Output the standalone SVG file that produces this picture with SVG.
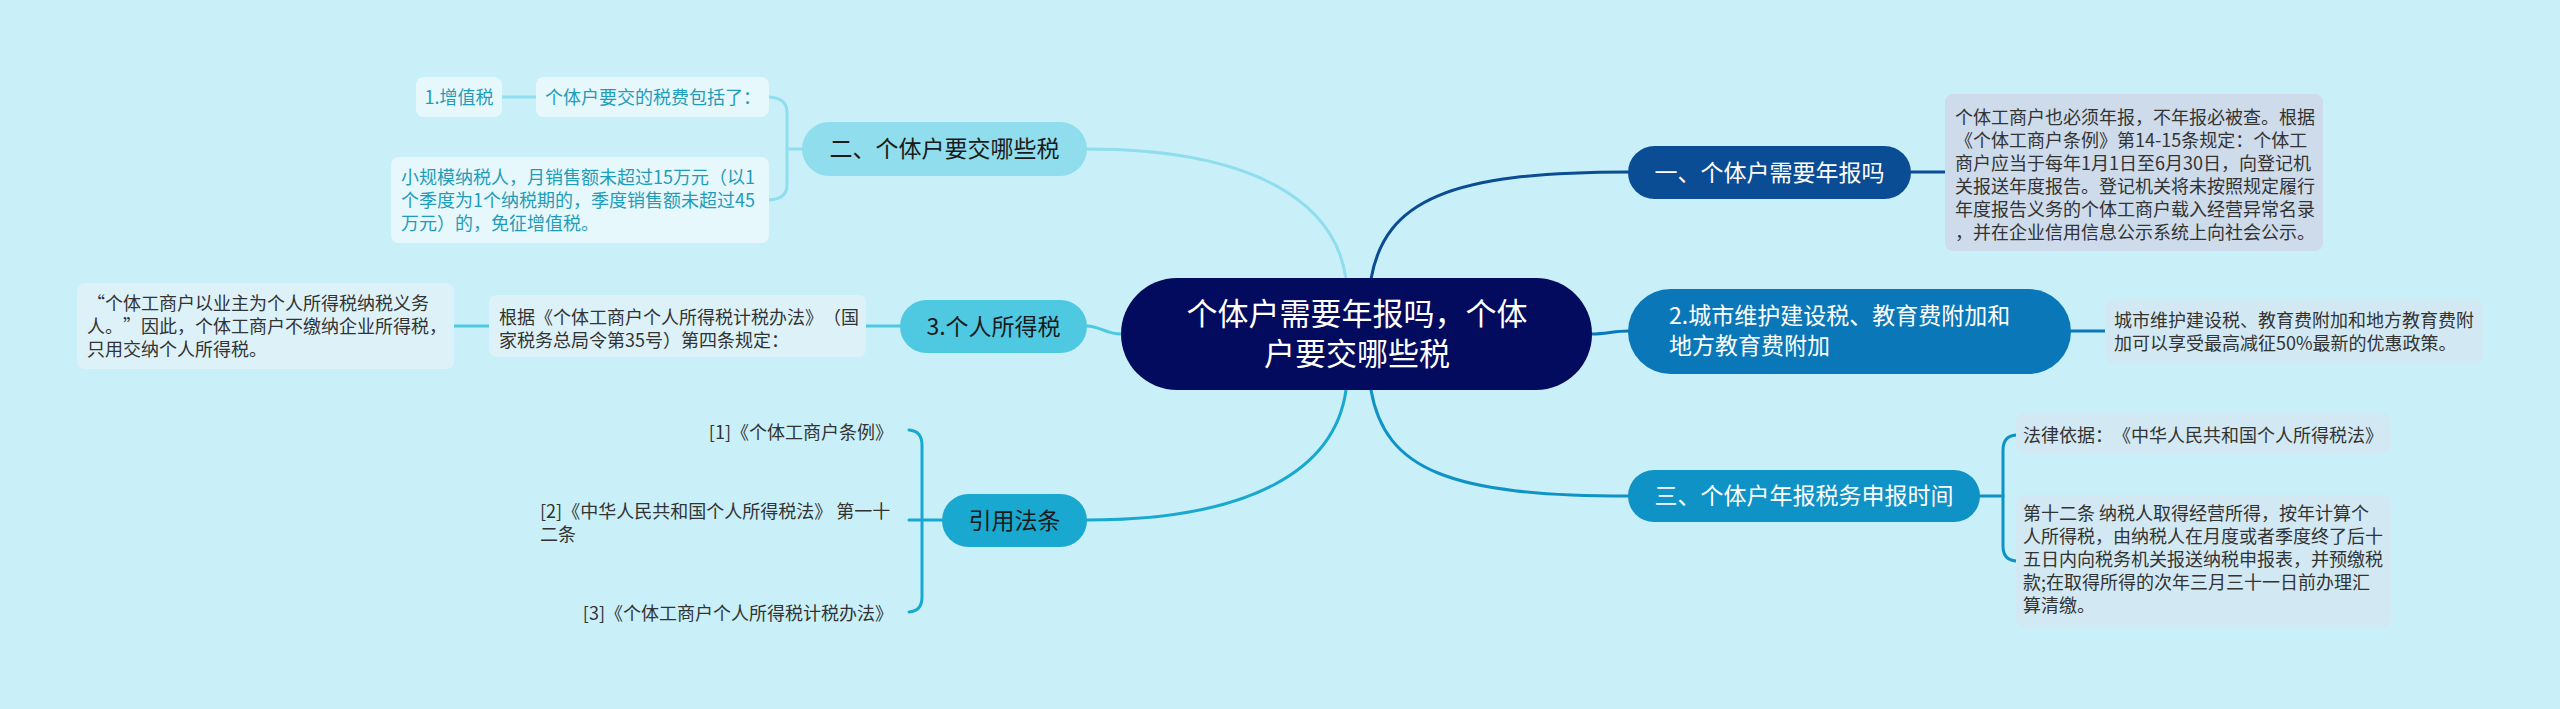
<svg xmlns="http://www.w3.org/2000/svg" width="2560" height="709" viewBox="0 0 2560 709">
<style>
text{font-family:"Noto Sans CJK SC","Microsoft YaHei",sans-serif;text-spacing-trim:space-all;}
.t18{font-size:18px;fill:#333333;}
.teal{font-size:18px;fill:#1f9cb9;}
.n23w{font-size:23px;fill:#ffffff;}
.n23d{font-size:23px;fill:#1a1a1a;}
.c{text-anchor:middle;}
.e{text-anchor:end;}
.conn path{fill:none;stroke-width:3;stroke-linecap:round;}
</style>
<rect width="2560" height="709" fill="#c9f0f8"/>
<g id="connectors" class="conn">
<path d="M1346,279 C1335,200 1250,149 1087,149" stroke="#8fdded"/>
<path d="M1121,334 C1105,334 1100,326 1087,326" stroke="#4fc9e2"/>
<path d="M1346,390 C1335,470 1250,520 1087,520" stroke="#19a8cf"/>
<path d="M1371,279 C1385,200 1450,172 1628,172" stroke="#0b4d94"/>
<path d="M1592,334 C1605,334 1615,331 1628,331" stroke="#0a78b8"/>
<path d="M1371,390 C1385,470 1450,496 1628,496" stroke="#0f92c6"/>
<path d="M1911,172 H1945" stroke="#0b4d94"/>
<path d="M2071,331 H2105" stroke="#0a78b8"/>
<path d="M1980,496 H2003" stroke="#0f92c6" stroke-width="2.5"/>
<path d="M2016,435 Q2003,436 2003,450 L2003,546 Q2003,560 2016,561" stroke="#0f92c6" stroke-width="2.5"/>
<path d="M802,149 H787" stroke="#8fdded" stroke-width="2.5"/>
<path d="M769,97 Q787,98 787,112 L787,185 Q787,199 769,200" stroke="#8fdded" stroke-width="2.5"/>
<path d="M502,97 H536" stroke="#8fdded" stroke-width="4"/>
<path d="M866,326 H900" stroke="#4fc9e2" stroke-width="4"/>
<path d="M454,326 H489" stroke="#4fc9e2" stroke-width="4"/>
<path d="M942,520 H909" stroke="#19a8cf" stroke-width="2.5"/>
<path d="M909,430 Q922,431 922,445 L922,597 Q922,611 909,612" stroke="#19a8cf" stroke-width="2.5"/>
</g>
<g id="root">
<rect x="1121" y="278" width="471" height="112" rx="56" fill="#020b5e"/>
<text x="1357" y="325" font-size="31" fill="#ffffff" class="c">个体户需要年报吗，个体</text>
<text x="1357" y="365" font-size="31" fill="#ffffff" class="c">户要交哪些税</text>
</g>
<g id="n1">
<rect x="1628" y="146" width="283" height="53" rx="26.5" fill="#0b4d94"/>
<text x="1769.5" y="180.5" class="n23w c">一、个体户需要年报吗</text>
</g>
<g id="n1d">
<rect x="1945" y="94" width="378" height="157" rx="8" fill="#cddbea"/>
<text class="t18" x="1955"><tspan x="1955" y="124">个体工商户也必须年报，不年报必被查。根据</tspan><tspan x="1955" y="147">《个体工商户条例》第14-15条规定：个体工</tspan><tspan x="1955" y="170">商户应当于每年1月1日至6月30日，向登记机</tspan><tspan x="1955" y="193">关报送年度报告。登记机关将未按照规定履行</tspan><tspan x="1955" y="216">年度报告义务的个体工商户载入经营异常名录</tspan><tspan x="1955" y="239">，并在企业信用信息公示系统上向社会公示。</tspan></text>
</g>
<g id="n2">
<rect x="1628" y="289" width="443" height="85" rx="42.5" fill="#0a78b8"/>
<text class="n23w" x="1669" y="324">2.城市维护建设税、教育费附加和</text>
<text class="n23w" x="1669" y="354">地方教育费附加</text>
</g>
<g id="n2d">
<rect x="2105" y="300" width="378" height="63" rx="8" fill="#d2e8f2"/>
<text class="t18" x="2114" y="326.5">城市维护建设税、教育费附加和地方教育费附</text>
<text class="t18" x="2114" y="349.5">加可以享受最高减征50%最新的优惠政策。</text>
</g>
<g id="n3">
<rect x="1628" y="470" width="352" height="52" rx="26" fill="#0f92c6"/>
<text class="n23w c" x="1804" y="504">三、个体户年报税务申报时间</text>
</g>
<g id="n3d1">
<rect x="2016" y="413" width="375" height="40" rx="8" fill="#d2e8f2"/>
<text class="t18" x="2023" y="441.5">法律依据：《中华人民共和国个人所得税法》</text>
</g>
<g id="n3d2">
<rect x="2016" y="495" width="375" height="132" rx="8" fill="#d2e8f2"/>
<text class="t18"><tspan x="2023" y="519.5">第十二条 纳税人取得经营所得，按年计算个</tspan><tspan x="2023" y="542.5">人所得税，由纳税人在月度或者季度终了后十</tspan><tspan x="2023" y="565.5">五日内向税务机关报送纳税申报表，并预缴税</tspan><tspan x="2023" y="588.5">款;在取得所得的次年三月三十一日前办理汇</tspan><tspan x="2023" y="611.5">算清缴。</tspan></text>
</g>
<g id="l1">
<rect x="802" y="122" width="285" height="54" rx="27" fill="#8fdded"/>
<text class="n23d c" x="944.5" y="157">二、个体户要交哪些税</text>
</g>
<g id="l1a">
<rect x="536" y="77" width="233" height="40" rx="8" fill="#e7f8fc"/>
<text class="teal" x="545" y="103.5">个体户要交的税费包括了：</text>
</g>
<g id="l1a1">
<rect x="416" y="77" width="86" height="40" rx="8" fill="#e7f8fc"/>
<text class="teal c" x="459" y="103.5">1.增值税</text>
</g>
<g id="l1b">
<rect x="391" y="157" width="378" height="86" rx="8" fill="#e7f8fc"/>
<text class="teal"><tspan x="401" y="183.5">小规模纳税人，月销售额未超过15万元（以1</tspan><tspan x="401" y="206.5">个季度为1个纳税期的，季度销售额未超过45</tspan><tspan x="401" y="229.5">万元）的，免征增值税。</tspan></text>
</g>
<g id="l2">
<rect x="900" y="300" width="187" height="53" rx="26.5" fill="#4fc9e2"/>
<text class="n23d c" x="993.5" y="334.5">3.个人所得税</text>
</g>
<g id="l2a">
<rect x="489" y="295" width="377" height="62" rx="8" fill="#dcf2f8"/>
<text class="t18"><tspan x="499" y="323.5">根据《个体工商户个人所得税计税办法》（国</tspan><tspan x="499" y="346.5">家税务总局令第35号）第四条规定：</tspan></text>
</g>
<g id="l2a1">
<rect x="77" y="283" width="377" height="86" rx="8" fill="#dcf2f8"/>
<text class="t18"><tspan x="87" y="309.5">“个体工商户以业主为个人所得税纳税义务</tspan><tspan x="87" y="332.5">人。”因此，个体工商户不缴纳企业所得税，</tspan><tspan x="87" y="355.5">只用交纳个人所得税。</tspan></text>
</g>
<g id="l3">
<rect x="942" y="494" width="145" height="53" rx="26.5" fill="#19a8cf"/>
<text class="n23d c" x="1014.5" y="528.5">引用法条</text>
</g>
<g id="r1"><text class="t18 e" x="893" y="438.5">[1]《个体工商户条例》</text></g>
<g id="r2"><text class="t18"><tspan x="540" y="517.5">[2]《中华人民共和国个人所得税法》 第一十</tspan><tspan x="540" y="540.5">二条</tspan></text></g>
<g id="r3"><text class="t18 e" x="893" y="619.5">[3]《个体工商户个人所得税计税办法》</text></g>
</svg>
